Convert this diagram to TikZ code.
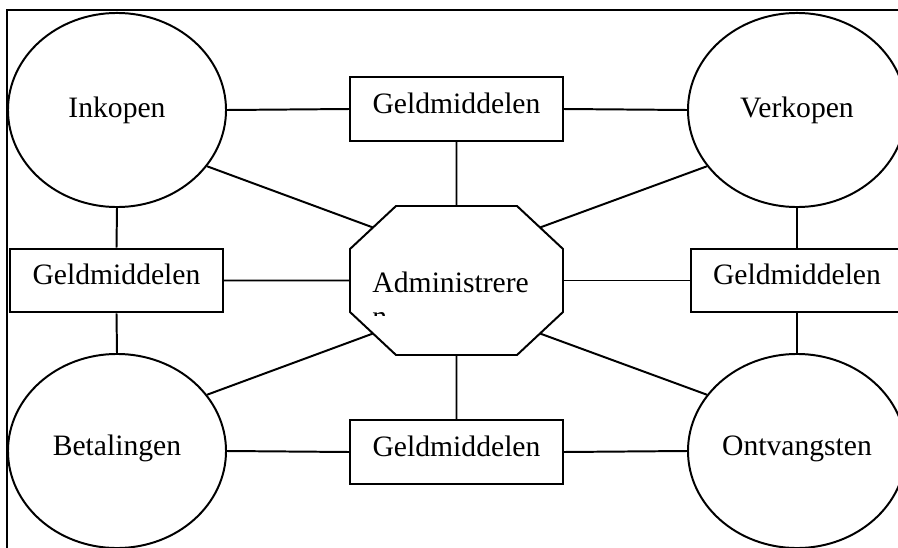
\documentclass[tikz,border=0pt]{standalone}
\usepackage{fontspec}
\setmainfont{Liberation Serif}
\usetikzlibrary{shapes.geometric,calc}
\begin{document}
\begin{tikzpicture}[x=0.405pt,y=-0.405pt,line join=miter,font=\fontsize{12}{13.8}\selectfont,
	proces/.style={ellipse,draw,line width=0.8pt,inner sep=0pt,minimum width=88.3pt,minimum height=78.6pt,text height=8pt,text depth=1.6pt},
	geld/.style={rectangle,draw,line width=0.8pt,inner sep=0pt,minimum width=86pt,minimum height=25.9pt,text height=8pt,text depth=4.4pt},
	lijn/.style={line width=0.8pt}]
	\useasboundingbox (0,0) rectangle (898,548);
	\node[proces] (ink) at (117,110) {Inkopen};
	\node[proces] (ver) at (797,110) {Verkopen};
	\node[proces,text depth=4.4pt] (bet) at (117,451) {Betalingen};
	\node[proces,text depth=4.4pt] (ont) at (797,451) {Ontvangsten};
	\node[geld] (gtop) at (456.5,109) {Geldmiddelen};
	\node[geld] (gbot) at (456.5,452) {Geldmiddelen};
	\node[geld] (glft) at (116.5,280.5) {Geldmiddelen};
	\node[geld] (grgt) at (797,280.5) {Geldmiddelen};
	% achthoek
	\node[rectangle,inner sep=0pt,minimum width=86.3pt,minimum height=60.3pt] (adm) at (456.5,280.5) {};
	\draw[lijn] ($(adm)+(-60.5,-74.5)$)--($(adm)+(60.5,-74.5)$)--($(adm)+(106.5,-31.5)$)--($(adm)+(106.5,31.5)$)
		--($(adm)+(60.5,74.5)$)--($(adm)+(-60.5,74.5)$)--($(adm)+(-106.5,31.5)$)--($(adm)+(-106.5,-31.5)$)--cycle;
	\coordinate (admnw) at ($(adm)+(-83.5,-53)$);
	\coordinate (admne) at ($(adm)+(83.5,-53)$);
	\coordinate (admsw) at ($(adm)+(-83.5,53)$);
	\coordinate (admse) at ($(adm)+(83.5,53)$);
	\begin{scope}
		\clip (350,200) rectangle (563,315);
		\node[anchor=base west,inner sep=0pt] (admtxt) at (372,292) {\begin{tabular}[t]{@{}l@{}}Administrere\\n\end{tabular}};
	\end{scope}
	% verbindingen
	\draw[lijn] (ink.east)--(gtop.west) (gtop.east)--(ver.west) (gtop.south)--(adm.north);
	\draw[lijn] (bet.east)--(gbot.west) (gbot.east)--(ont.west) (gbot.north)--(adm.south);
	\draw[lijn] (ink.south)--(glft.north) (glft.south)--(bet.north) (glft.east)--(adm.west);
	\draw[lijn] (ver.south)--(grgt.north) (grgt.south)--(ont.north) (grgt.west)--(adm.east);
	\draw[lijn] (ink.-32)--(admnw) (ver.-148)--(admne);
	\draw[lijn] (bet.32)--(admsw) (ont.148)--(admse);
	% kader
	\draw[line width=1.2pt] (7,560)--(7,10)--(910,10);
\end{tikzpicture}
\end{document}
